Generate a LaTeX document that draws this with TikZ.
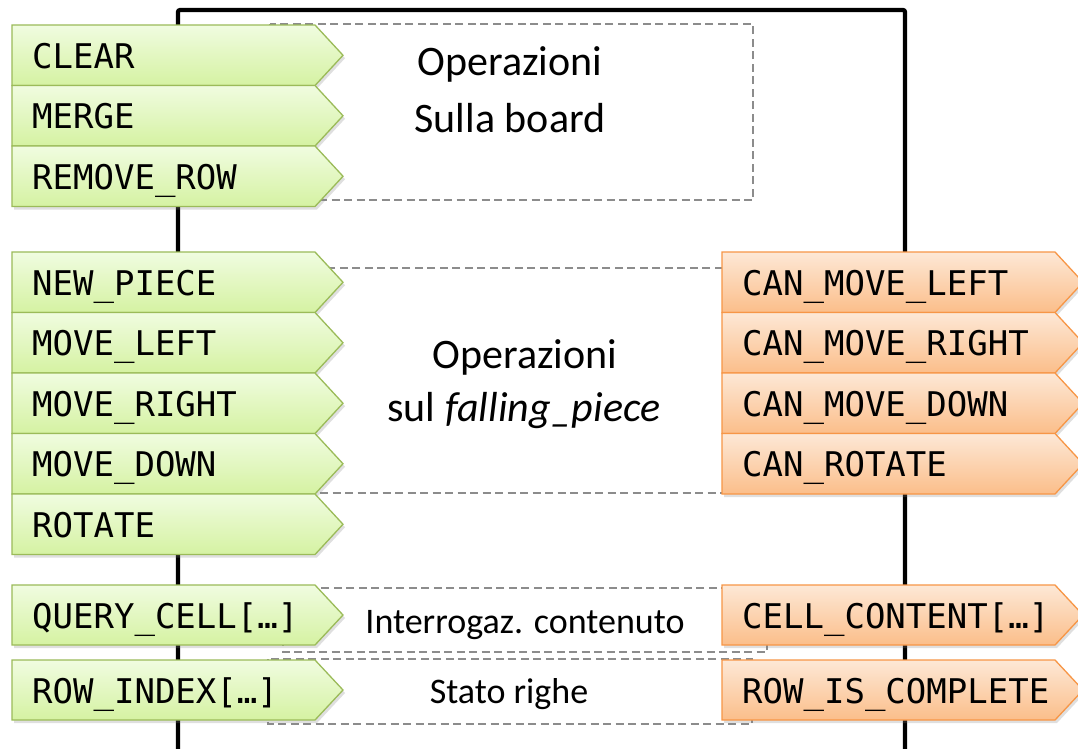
\documentclass[tikz,border=0pt]{standalone}
\usepackage{fontspec}
\setmainfont{Carlito}
\newfontfamily\lblfont{DejaVu Sans Mono}
\usetikzlibrary{shadows}
\definecolor{gborder}{HTML}{9BBB59}
\definecolor{gtop}{HTML}{F0FCE0}
\definecolor{gbot}{HTML}{D5F2A2}
\definecolor{oborder}{HTML}{F79646}
\definecolor{otop}{HTML}{FDE8D6}
\definecolor{obot}{HTML}{FBBE8A}
\definecolor{dashgray}{HTML}{8C8C8C}
\newcommand\sigbox[7]{% style, name, xleft, ytop, xright(body), ybottom, text
  \draw[#1] (#3,#4) -- (#5,#4) -- ({#5+28},{(#4+#6)/2}) -- (#5,#6) -- (#3,#6) -- cycle;
  \node[lbl, anchor=base west] (#2) at ({#3+20},{#4+43}) {#7};
}
\begin{document}
\begin{tikzpicture}[x=1pt,y=-1pt,
  gsig/.style={draw=gborder, line width=1.3pt, line join=miter, top color=gtop, bottom color=gbot,
    drop shadow={opacity=0.25, shadow xshift=2pt, shadow yshift=-3pt}},
  osig/.style={draw=oborder, line width=1.3pt, line join=miter, top color=otop, bottom color=obot,
    drop shadow={opacity=0.25, shadow xshift=2pt, shadow yshift=-3pt}},
  lbl/.style={font=\lblfont\fontsize{34}{40}\selectfont, inner sep=0pt, text=black},
  bigtxt/.style={font=\fontsize{42}{50}\selectfont, inner sep=0pt, anchor=base},
  smalltxt/.style={font=\fontsize{36}{44}\selectfont, inner sep=0pt, anchor=base},
  dbox/.style={draw=dashgray, line width=1.4pt, dash pattern=on 8pt off 4.5pt},
  frame/.style={draw=black, line width=4.2pt, rounded corners=2pt}]
\useasboundingbox (0,0) rectangle (1078,748);
\fill[white] (0,0) rectangle (1078,748);

% main frame
\draw[frame] (178,770) -- (178,10) -- (905,10) -- (905,770);

% dashed boxes
\draw[dbox] (270,24) rectangle (753,200);
\draw[dbox] (270,268) rectangle (740,493);
\draw[dbox] (283,588) rectangle (767,652);
\draw[dbox] (268,659) rectangle (752,724);

% green inputs
\sigbox{gsig}{clear}{12}{25}{315}{85.5}{CLEAR}
\sigbox{gsig}{merge}{12}{85.5}{315}{146}{MERGE}
\sigbox{gsig}{removerow}{12}{146}{315}{206.5}{REMOVE\_ROW}
\sigbox{gsig}{newpiece}{12}{252}{315}{312.5}{NEW\_PIECE}
\sigbox{gsig}{moveleft}{12}{312.5}{315}{373}{MOVE\_LEFT}
\sigbox{gsig}{moveright}{12}{373}{315}{433.5}{MOVE\_RIGHT}
\sigbox{gsig}{movedown}{12}{433.5}{315}{494}{MOVE\_DOWN}
\sigbox{gsig}{rotate}{12}{494}{315}{554.5}{ROTATE}
\sigbox{gsig}{querycell}{12}{585}{315}{645}{QUERY\_CELL[…]}
\sigbox{gsig}{rowindex}{12}{660}{315}{720}{ROW\_INDEX[…]}

% orange outputs
\sigbox{osig}{canleft}{722}{252}{1055}{312.5}{CAN\_MOVE\_LEFT}
\sigbox{osig}{canright}{722}{312.5}{1055}{373}{CAN\_MOVE\_RIGHT}
\sigbox{osig}{candown}{722}{373}{1055}{433.5}{CAN\_MOVE\_DOWN}
\sigbox{osig}{canrotate}{722}{433.5}{1055}{494}{CAN\_ROTATE}
\sigbox{osig}{cellcontent}{722}{585}{1055}{645}{CELL\_CONTENT[…]}
\sigbox{osig}{rowcomplete}{722}{660}{1055}{720}{ROW\_IS\_COMPLETE}

% captions
\node[bigtxt] (boardA) at (510,75) {Operazioni};
\node[bigtxt] (boardB) at (510,132) {Sulla board};
\node[bigtxt] (fallA) at (525,368) {Operazioni};
\node[bigtxt] (fallB) at (524,421) {sul \textit{falling\_piece}};
\node[smalltxt] (query) at (525,633) {Interrogaz. contenuto};
\node[smalltxt] (rows) at (509,703) {Stato righe};
\end{tikzpicture}
\end{document}
